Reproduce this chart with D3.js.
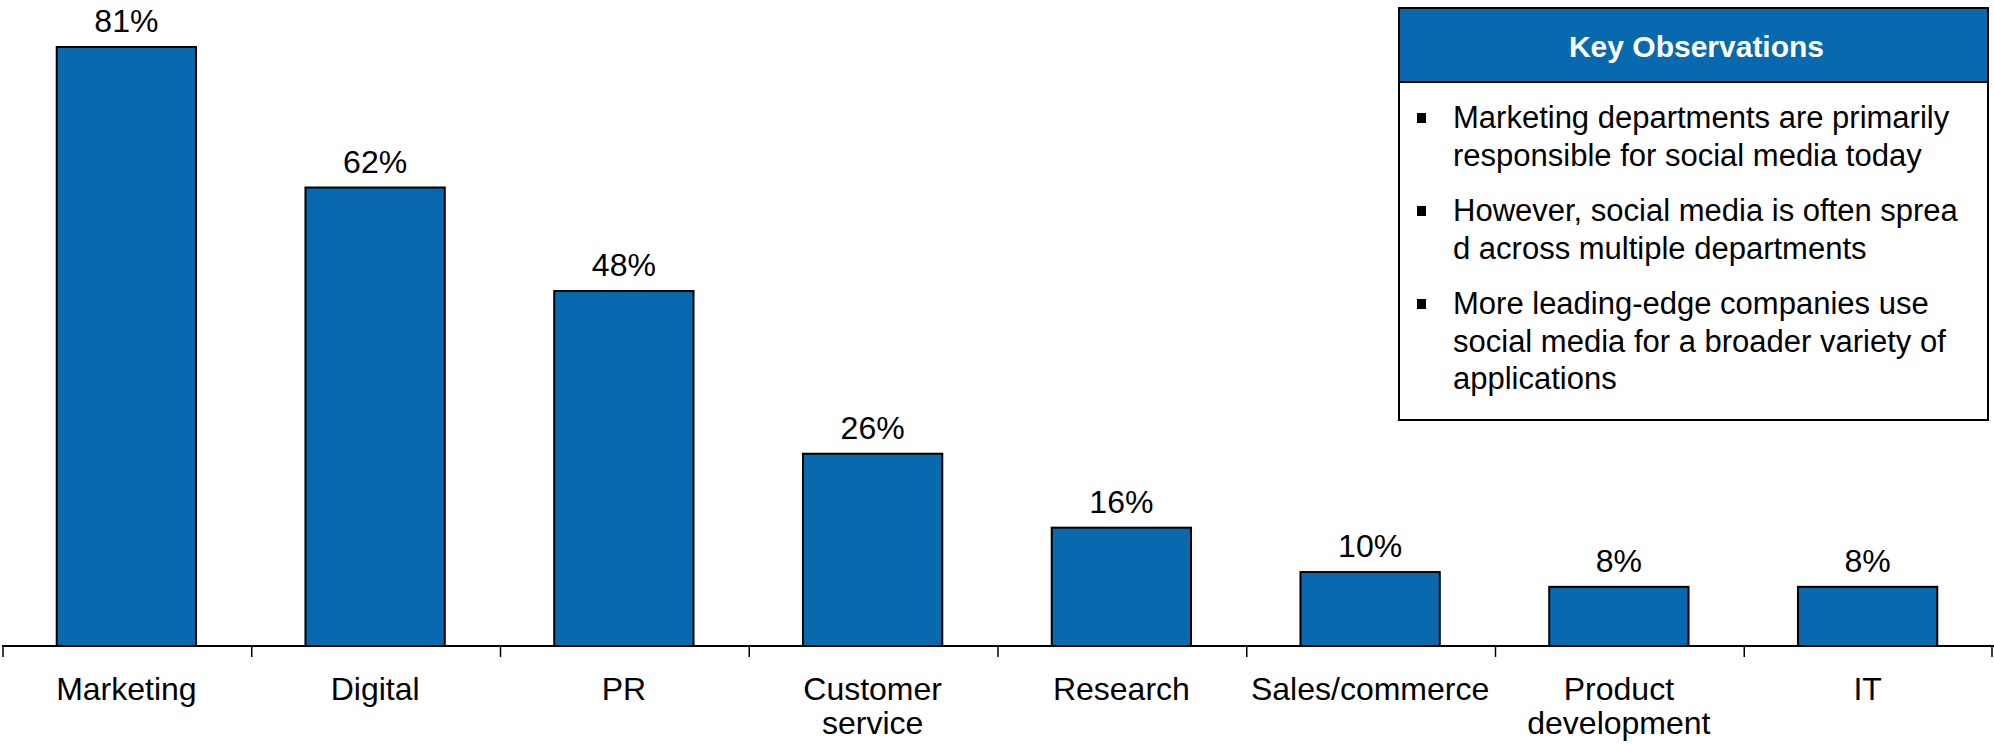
<!DOCTYPE html>
<html>
<head>
<meta charset="utf-8">
<script src="https://cdn.jsdelivr.net/npm/d3@7"></script>
<style>
  html, body { margin: 0; padding: 0; background: #fff; }
  svg { display: block; font-family: "Liberation Sans", Arial, sans-serif; }
</style>
</head>
<body>
<svg id="chart" width="1994" height="744"></svg>
<script>
// Departments responsible for social media
const categories = [
  ["Marketing"],
  ["Digital"],
  ["PR"],
  ["Customer", "service"],
  ["Research"],
  ["Sales/commerce"],
  ["Product", "development"],
  ["IT"]
];
const values = [81, 62, 48, 26, 16, 10, 8, 8];

const boxTitle = "Key Observations";
const observations = [
  ["Marketing departments are primarily", "responsible for social media today"],
  ["However, social media is often sprea", "d across multiple departments"],
  ["More leading-edge companies use", "social media for a broader variety of", "applications"]
];

const blue = "#0869AF";
const svg = d3.select("#chart");

const baseY = 646;
const keys = categories.map(c => c.join(" "));

const x = d3.scaleBand()
  .domain(keys)
  .range([2, 1992])
  .paddingInner(0.44)
  .paddingOuter(0.22);

const y = d3.scaleLinear()
  .domain([0, 81])
  .range([baseY, 47]);

const step = x.step();

// bars
svg.append("g").selectAll("rect")
  .data(values)
  .join("rect")
  .attr("x", (d, i) => x(keys[i]))
  .attr("y", d => y(d))
  .attr("width", x.bandwidth())
  .attr("height", d => baseY - y(d))
  .attr("fill", blue)
  .attr("stroke", "#000")
  .attr("stroke-width", 2);

// value labels
svg.append("g").selectAll("text")
  .data(values)
  .join("text")
  .attr("x", (d, i) => x(keys[i]) + x.bandwidth() / 2)
  .attr("y", d => y(d) - 15)
  .attr("text-anchor", "middle")
  .attr("font-size", 32)
  .attr("fill", "#000")
  .text(d => d + "%");

// category axis: baseline with ticks at band boundaries
const axis = svg.append("g");
axis.append("line")
  .attr("x1", 2).attr("x2", 1994)
  .attr("y1", baseY).attr("y2", baseY)
  .attr("stroke", "#000").attr("stroke-width", 2);

const boundaries = keys.map(k => x(k) + x.bandwidth() / 2 - step / 2 + 1);
boundaries.push(x(keys[keys.length - 1]) + x.bandwidth() / 2 + step / 2);
axis.selectAll("line.tick")
  .data(boundaries)
  .join("line")
  .attr("class", "tick")
  .attr("x1", d => d).attr("x2", d => d)
  .attr("y1", baseY).attr("y2", baseY + 11)
  .attr("stroke", "#000").attr("stroke-width", 1.5);

axis.selectAll("text.cat")
  .data(categories)
  .join("text")
  .attr("class", "cat")
  .attr("x", (d, i) => x(keys[i]) + x.bandwidth() / 2)
  .attr("y", 700)
  .attr("text-anchor", "middle")
  .attr("font-size", 32)
  .attr("fill", "#000")
  .selectAll("tspan")
  .data(d => d)
  .join("tspan")
  .attr("x", function() { return d3.select(this.parentNode).attr("x"); })
  .attr("dy", (d, i) => i === 0 ? 0 : 34)
  .text(d => d);

// observations box
const box = { x: 1399, y: 8, w: 589, h: 412, head: 74 };
const g = svg.append("g");
g.append("rect")
  .attr("x", box.x).attr("y", box.y)
  .attr("width", box.w).attr("height", box.h)
  .attr("fill", "#fff").attr("stroke", "#000").attr("stroke-width", 2);
g.append("rect")
  .attr("x", box.x).attr("y", box.y)
  .attr("width", box.w).attr("height", box.head)
  .attr("fill", blue).attr("stroke", "#000").attr("stroke-width", 2);
g.append("text")
  .attr("x", box.x + box.w / 2 + 3)
  .attr("y", 57)
  .attr("text-anchor", "middle")
  .attr("font-size", 30)
  .attr("font-weight", "bold")
  .attr("fill", "#fff")
  .text(boxTitle);

const firstBaselines = [128, 221, 314];
const lineGap = 37.5;
observations.forEach((lines, i) => {
  const by = firstBaselines[i];
  g.append("rect")
    .attr("x", 1417).attr("y", by - 15)
    .attr("width", 9).attr("height", 10)
    .attr("fill", "#000");
  g.append("text")
    .attr("font-size", 31)
    .attr("fill", "#000")
    .selectAll("tspan")
    .data(lines)
    .join("tspan")
    .attr("x", 1453)
    .attr("y", (d, j) => by + j * lineGap)
    .text(d => d);
});
</script>
</body>
</html>
